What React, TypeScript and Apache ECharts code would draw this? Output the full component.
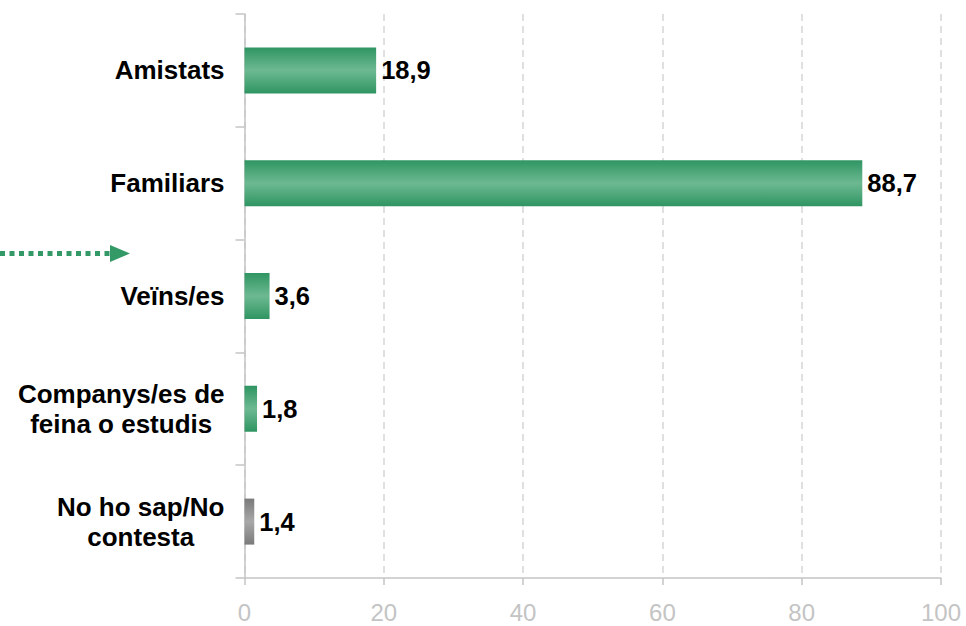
import React, { useEffect, useRef } from "react";
import * as echarts from "echarts";

const categories = [
  "Amistats",
  "Familiars",
  "Veïns/es",
  "Companys/es de\nfeina o estudis",
  "No ho sap/No\ncontesta",
];
const values = [18.9, 88.7, 3.6, 1.8, 1.4];
const isGray = [false, false, false, false, true];
const xTicks = [0, 20, 40, 60, 80, 100];

const FONT = '"Liberation Sans", Arial, Helvetica, sans-serif';

const greenGrad = () =>
  new echarts.graphic.LinearGradient(0, 0, 0, 1, [
    { offset: 0, color: "#2f9562" },
    { offset: 0.5, color: "#6db991" },
    { offset: 1, color: "#2f9562" },
  ]);
const grayGrad = () =>
  new echarts.graphic.LinearGradient(0, 0, 0, 1, [
    { offset: 0, color: "#7a7a7a" },
    { offset: 0.5, color: "#a8a8a8" },
    { offset: 1, color: "#7a7a7a" },
  ]);

export default function App() {
  const ref = useRef<HTMLDivElement>(null);
  useEffect(() => {
    if (!ref.current) return;
    const chart = echarts.init(ref.current, null, { renderer: "svg" });
    chart.setOption({
      animation: false,
      backgroundColor: "#ffffff",
      grid: { left: 244.5, right: 25, top: 14, bottom: 48, containLabel: false },
      xAxis: {
        type: "value",
        min: xTicks[0],
        max: xTicks[xTicks.length - 1],
        interval: 20,
        axisLine: { show: true, lineStyle: { color: "#c4c4c4", width: 1.5 } },
        axisTick: { show: true, length: 7, lineStyle: { color: "#c4c4c4", width: 1.5 } },
        splitLine: {
          show: true,
          lineStyle: { color: "#d6d6d6", width: 1.5, type: [7, 5] },
        },
        axisLabel: {
          margin: 22,
          color: "#c4c4c4",
          fontSize: 24,
          fontFamily: FONT,
        },
      },
      yAxis: {
        type: "category",
        inverse: true,
        data: categories,
        axisLine: { show: true, lineStyle: { color: "#c4c4c4", width: 1.5 } },
        axisTick: {
          show: true,
          length: 9,
          alignWithLabel: false,
          lineStyle: { color: "#c4c4c4", width: 1.5 },
        },
        splitLine: { show: false },
        axisLabel: {
          margin: 20,
          color: "#000",
          fontSize: 26,
          fontWeight: "bold",
          fontFamily: FONT,
          lineHeight: 30,
          formatter: (v: string) =>
            v
              .split("\n")
              .map((s) => `{c|${s}}`)
              .join("\n"),
          rich: {
            c: {
              align: "center",
              color: "#000",
              fontSize: 26,
              fontWeight: "bold",
              fontFamily: FONT,
              lineHeight: 30,
            },
          },
        },
      },
      series: [
        {
          type: "bar",
          barWidth: 46,
          data: values.map((v, i) => ({
            value: v,
            itemStyle: { color: isGray[i] ? grayGrad() : greenGrad() },
          })),
          label: {
            show: true,
            position: "right",
            distance: 5,
            color: "#000",
            fontSize: 25.5,
            fontWeight: "bold",
            fontFamily: FONT,
            formatter: (p: any) => String(p.value.toFixed(1)).replace(".", ","),
          },
        },
      ],
      graphic: [
        {
          type: "line",
          shape: { x1: 0, y1: 253.5, x2: 112, y2: 253.5 },
          style: { stroke: "#339966", lineWidth: 5, lineDash: [5, 4.5] },
        },
        {
          type: "polygon",
          shape: {
            points: [
              [110, 245],
              [130, 253.5],
              [110, 262],
            ],
          },
          style: { fill: "#339966" },
        },
      ],
    });
    return () => chart.dispose();
  }, []);
  return (
    <div
      ref={ref}
      style={{ position: "fixed", left: 0, top: 0, width: 966, height: 626, background: "#fff" }}
    />
  );
}
